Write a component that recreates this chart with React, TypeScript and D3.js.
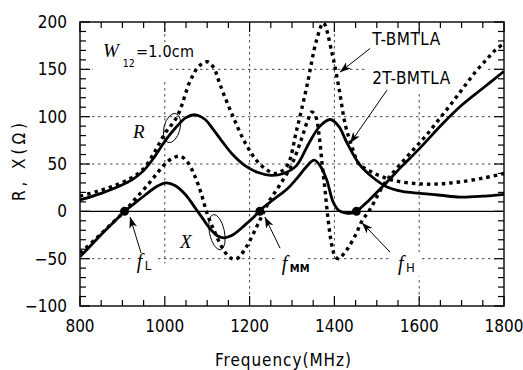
import * as d3 from "d3";

type Pt = [number, number];

// R and X of the 2T-BMTLA (solid) and T-BMTLA (dotted), Ohm vs MHz
const r2T: Pt[] = [
  [800, 12], [850, 19], [900, 28], [925, 34], [950, 43], [975, 57], [1000, 74], [1025, 88],
  [1050, 99], [1072, 102], [1095, 97], [1115, 86], [1135, 74], [1160, 60], [1190, 48],
  [1220, 41], [1250, 38], [1280, 40], [1310, 48], [1340, 72], [1366, 90], [1390, 97],
  [1410, 90], [1430, 72], [1460, 49], [1490, 36], [1523, 26], [1560, 21], [1602, 19],
  [1650, 17], [1696, 15], [1750, 16], [1800, 18],
];
const x2T: Pt[] = [
  [800, -48], [830, -34], [860, -20], [885, -9], [905, 0], [930, 9], [953, 17], [980, 26],
  [1003, 30], [1025, 27], [1050, 17], [1071, 4], [1090, -8], [1108, -19], [1125, -26],
  [1140, -28], [1160, -25], [1190, -14], [1210, -6], [1224, 1], [1255, 12], [1287, 23],
  [1310, 34], [1332, 46], [1352, 54], [1368, 47], [1382, 33], [1397, 10], [1410, 1],
  [1428, -2], [1440, -2], [1452, 0], [1480, 11], [1522, 30], [1560, 48], [1600, 66],
  [1654, 92], [1700, 112], [1750, 130], [1800, 148],
];
const rT: Pt[] = [
  [800, 16], [840, 21], [880, 27], [920, 35], [950, 45], [975, 62], [1000, 82], [1030, 101],
  [1060, 138], [1080, 153], [1100, 158], [1115, 152], [1131, 133], [1160, 101], [1190, 72],
  [1216, 54], [1240, 44], [1262, 40], [1288, 48], [1311, 86], [1335, 132], [1358, 181],
  [1374, 199], [1394, 168], [1410, 132], [1426, 91], [1443, 66], [1458, 50], [1482, 43],
  [1510, 37], [1546, 32], [1600, 29], [1650, 29], [1694, 31], [1750, 35], [1800, 40],
];
const xT: Pt[] = [
  [800, -44], [835, -30], [870, -15], [905, 0], [930, 13], [960, 28], [985, 42], [1005, 52],
  [1022, 57], [1038, 58], [1055, 51], [1070, 38], [1085, 20], [1101, -4], [1118, -22],
  [1135, -38], [1154, -49], [1170, -50], [1193, -37], [1217, -16], [1232, -2], [1248, 12],
  [1270, 27], [1298, 48], [1322, 76], [1337, 96], [1347, 105], [1356, 100], [1364, 80],
  [1371, 50], [1378, 22], [1385, -8], [1394, -36], [1402, -48], [1410, -50], [1420, -46],
  [1432, -39], [1452, -23], [1464, -11], [1484, 2], [1519, 30], [1550, 47], [1584, 64],
  [1616, 80], [1650, 99], [1678, 115], [1705, 131], [1734, 148], [1760, 161], [1781, 171],
  [1800, 177],
];

const crossings = [
  { f: 905, name: "L", label: [934, -60], tail: [944, -44], tip: [918, -6] },
  { f: 1224, name: "MM", label: [1276, -62], tail: [1272, -39], tip: [1236, -6] },
  { f: 1452, name: "H", label: [1550, -62], tail: [1531, -43], tip: [1465, -12] },
];

const xMajor = [800, 1000, 1200, 1400, 1600, 1800];
const yMajor = [-100, -50, 0, 50, 100, 150, 200];
const xGrid = [[1000, -55], [1200, -92], [1400, -50], [1600, -100]];
const yGrid = [150, 100, 50, -50];

const FONT = "'DejaVu Sans Condensed', 'DejaVu Sans', sans-serif";
const SERIF = "'Liberation Serif', 'DejaVu Serif', serif";

export default function App() {
  const width = 523, height = 370;
  const m = { left: 80, right: 19, top: 22, bottom: 64 };
  const x = d3.scaleLinear().domain([800, 1800]).range([m.left, width - m.right]);
  const y = d3.scaleLinear().domain([-100, 200]).range([height - m.bottom, m.top]);
  const [x0, x1] = x.range();
  const [y0, y1] = y.range();

  const line = d3.line<Pt>()
    .x(d => x(d[0]))
    .y(d => y(d[1]))
    .curve(d3.curveCatmullRom.alpha(0.5));

  const xTicks = d3.range(800, 1801, 50);
  const yTicks = d3.range(-100, 201, 10);

  const solid = { fill: "none", stroke: "#000", strokeWidth: 2.8 };
  const dotted = { fill: "none", stroke: "#000", strokeWidth: 3.4, strokeDasharray: "3.5,4" };

  return (
    <div style={{ position: "fixed", left: 0, top: 0 }}>
      <svg width={width} height={height} style={{ display: "block", background: "#fff" }}>
        <defs>
          <clipPath id="plot">
            <rect x={x0} y={y1} width={x1 - x0} height={y0 - y1} />
          </clipPath>
          <marker id="arr" markerUnits="userSpaceOnUse" markerWidth={12} markerHeight={8}
            refX={11} refY={4} orient="auto">
            <path d="M0,0 L11,4 L0,8 L3,4 Z" fill="#000" />
          </marker>
        </defs>

        {/* grid */}
        {yGrid.map(v => (
          <line key={"yg" + v} x1={x0} x2={x1} y1={y(v)} y2={y(v)}
            stroke="#333" strokeWidth={0.9} strokeDasharray="2.5,3.5" />
        ))}
        {xGrid.map(([f, lo]) => (
          <line key={"xg" + f} x1={x(f)} x2={x(f)} y1={y1} y2={y(lo)}
            stroke="#333" strokeWidth={0.9} strokeDasharray="2.5,3.5" />
        ))}
        <line x1={x0} x2={x1} y1={y(0)} y2={y(0)} stroke="#000" strokeWidth={1.2} />

        {/* label backgrounds */}
        <rect x={x(830)} y={y(178)} width={x(1005) - x(830)} height={y(138) - y(178)} fill="#fff" />
        <rect x={x(1475)} y={y(186)} width={x(1755) - x(1475)} height={y(126) - y(186)} fill="#fff" />
        {crossings.map(c => (
          <rect key={"bg" + c.name} x={x(c.label[0]) - 6} y={y(c.label[1]) - 18}
            width={c.name === "L" ? 24 : 30} height={24} fill="#fff" />
        ))}

        {/* axes frame and ticks */}
        <rect x={x0} y={y1} width={x1 - x0} height={y0 - y1} fill="none" stroke="#000" strokeWidth={1.4} />
        {xTicks.map(f => {
          const len = f % 200 === 0 ? 10 : 6;
          return (
            <g key={"xt" + f}>
              <line x1={x(f)} x2={x(f)} y1={y0} y2={y0 - len} stroke="#000" strokeWidth={1.2} />
              <line x1={x(f)} x2={x(f)} y1={y1} y2={y1 + len} stroke="#000" strokeWidth={1.2} />
            </g>
          );
        })}
        {yTicks.map(v => {
          const len = v % 50 === 0 ? 10 : 6;
          return (
            <g key={"yt" + v}>
              <line x1={x0} x2={x0 + len} y1={y(v)} y2={y(v)} stroke="#000" strokeWidth={1.2} />
              <line x1={x1} x2={x1 - len} y1={y(v)} y2={y(v)} stroke="#000" strokeWidth={1.2} />
            </g>
          );
        })}

        {/* tick labels */}
        {xMajor.map(f => (
          <text key={"xl" + f} x={x(f)} y={y0 + 26} textAnchor="middle"
            fontFamily={FONT} fontSize={17}>{f}</text>
        ))}
        {yMajor.map(v => (
          <text key={"yl" + v} x={x0 - 13} y={y(v) + 6} textAnchor="end"
            fontFamily={FONT} fontSize={17}>{v === 0 ? "0" : v < 0 ? "\u2212" + Math.abs(v) : v}</text>
        ))}
        <text x={283} y={366} textAnchor="middle" fontFamily={FONT} fontSize={17}
          textLength={136} lengthAdjust="spacing">
          Frequency(MHz)
        </text>
        <text transform={`translate(25,162) rotate(-90)`} textAnchor="middle" fontFamily={FONT} fontSize={17}
          textLength={78} lengthAdjust="spacing">
          R, X(Ω)
        </text>

        {/* curves */}
        <g clipPath="url(#plot)">
          <path d={line(rT) ?? ""} {...dotted} />
          <path d={line(xT) ?? ""} {...dotted} />
          <path d={line(r2T) ?? ""} {...solid} />
          <path d={line(x2T) ?? ""} {...solid} />
        </g>

        {/* crossing markers, arrows and labels */}
        {crossings.map(c => (
          <g key={c.name}>
            <circle cx={x(c.f)} cy={y(0)} r={4.5} fill="#000" />
            <line x1={x(c.tail[0])} y1={y(c.tail[1])} x2={x(c.tip[0])} y2={y(c.tip[1])}
              stroke="#000" strokeWidth={1} markerEnd="url(#arr)" />
            <text x={x(c.label[0])} y={y(c.label[1])} fontFamily={SERIF} fontStyle="italic" fontSize={20}>f</text>
            <text x={x(c.label[0]) + 8} y={y(c.label[1]) + 2} fontFamily={FONT}
              fontSize={c.name === "MM" ? 11 : 13} fontWeight={c.name === "MM" ? "bold" : "normal"}>{c.name}</text>
          </g>
        ))}

        <text x={x(854)} y={y(163)} fontFamily={SERIF} fontStyle="italic" fontSize={19}>W</text>
        <text x={x(901)} y={y(152)} fontFamily={FONT} fontSize={10.5}>12</text>
        <text x={x(932)} y={y(163)} fontFamily={FONT} fontSize={16}
          textLength={58} lengthAdjust="spacing">=1.0cm</text>

        <text x={x(925)} y={y(77)} fontFamily={SERIF} fontStyle="italic" fontSize={19}>R</text>
        <text x={x(1036)} y={y(-39)} fontFamily={SERIF} fontStyle="italic" fontSize={19}>X</text>
        <ellipse cx={x(1017)} cy={y(88)} rx={8} ry={15} fill="none" stroke="#000" strokeWidth={0.9}
          transform={`rotate(15 ${x(1017)} ${y(88)})`} />
        <ellipse cx={x(1123)} cy={y(-22)} rx={7.5} ry={18} fill="none" stroke="#000" strokeWidth={0.9}
          transform={`rotate(-12 ${x(1123)} ${y(-22)})`} />

        <text x={x(1489)} y={y(176)} fontFamily={FONT} fontSize={17}
          textLength={68} lengthAdjust="spacing">T-BMTLA</text>
        <line x1={x(1484)} y1={y(172)} x2={x(1413)} y2={y(147)} stroke="#000" strokeWidth={1} markerEnd="url(#arr)" />
        <text x={x(1489)} y={y(134)} fontFamily={FONT} fontSize={17}
          textLength={78} lengthAdjust="spacing">2T-BMTLA</text>
        <line x1={x(1524)} y1={y(128)} x2={x(1437)} y2={y(72)} stroke="#000" strokeWidth={1} markerEnd="url(#arr)" />
      </svg>
    </div>
  );
}
